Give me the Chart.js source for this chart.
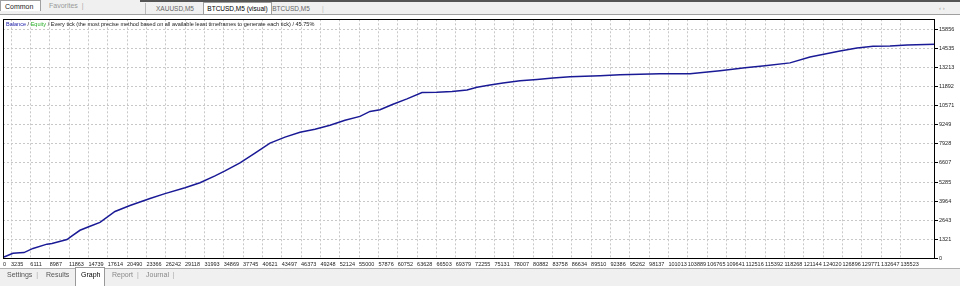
<!DOCTYPE html>
<html>
<head>
<meta charset="utf-8">
<script src="https://cdn.jsdelivr.net/npm/chart.js@4/dist/chart.umd.min.js"></script>
<style>
  html, body { margin: 0; padding: 0; }
  body { width: 960px; height: 286px; background: #f0f0f0; position: relative; overflow: hidden;
         font-family: "Liberation Sans", Arial, sans-serif; color: #222; }
  .abs { position: absolute; white-space: nowrap; }
  .topbar { left: 140px; top: 0; width: 820px; height: 2px; background: #555; }
  .tab { font-size: 6.5px; line-height: 11px; height: 11px; }
  .tab.sel { background: #fff; border: 1px solid #a0a0a0; border-bottom: none; }
  .tabline { left: 0; top: 14px; width: 960px; height: 1px; background: #a0a0a0; }
  .panel { left: 0; top: 15px; width: 960px; height: 253px; background: #fff; }
  .legend { left: 6px; top: 21px; font-size: 5.55px; color: #222; }
  .bottom { left: 0; top: 268px; width: 960px; height: 18px; background: #f0f0f0; border-top: 1px solid #b0b0b0; }
  .btab { font-size: 7px; top: 271px; color: #555; }
  .sep { color: #aaa; }
</style>
</head>
<body>
<div class="abs topbar"></div>
<div class="abs tab sel" style="left:0;top:0;width:41px;font-size:7px;padding-left:4px;box-sizing:border-box;">Common</div>
<div class="abs tab" style="left:49px;top:0;font-size:7px;color:#999;">Favorites <span class="sep">&nbsp;|</span></div>
<div class="abs tab" style="left:145px;top:3px;width:58px;text-align:center;color:#666;border-left:1px solid #bbb;">XAUUSD,M5</div>
<div class="abs tab sel" style="left:203px;top:2px;width:67px;text-align:center;color:#000;">BTCUSD,M5 (visual)</div>
<div class="abs tab" style="left:271px;top:3px;width:40px;text-align:center;color:#666;">BTCUSD,M5</div>
<div class="abs tab" style="left:322px;top:3px;color:#bbb;">|</div>
<div class="abs tab" style="left:939px;top:3px;color:#999;font-size:6px;">&#8249; &#8250;</div>
<div class="abs tabline"></div>
<div class="abs panel">
  <div style="position:relative;width:960px;height:253px;">
    <canvas id="graph"></canvas>
  </div>
</div>
<div class="abs legend"><span style="color:#1a1aa8">Balance</span> / <span style="color:#2ab02a">Equity</span> / Every tick (the most precise method based on all available least timeframes to generate each tick) / 45.75%</div>
<div class="abs bottom"></div>
<div class="abs btab" style="left:7px;">Settings <span class="sep">&nbsp;|</span></div>
<div class="abs btab" style="left:46px;">Results</div>
<div class="abs" style="left:75px;top:267px;width:30px;height:19px;background:#fff;border:1px solid #999;border-bottom:none;box-sizing:border-box;"></div>
<div class="abs btab" style="left:81px;color:#000;">Graph</div>
<div class="abs btab" style="left:112px;color:#888;">Report <span class="sep">&nbsp;|</span></div>
<div class="abs btab" style="left:146px;color:#888;">Journal <span class="sep">&nbsp;|</span></div>

<script>
// trade index / balance
const tradeIdx = [
  2186, 3525, 4566, 5161, 6500, 8582, 9326, 11557, 12301, 13491,
  14978, 16466, 18697, 20928, 23903, 26134, 29109, 31340, 33571, 35059,
  37290, 39521, 41752, 43983, 46214, 48445, 50677, 52908, 55139, 56626,
  58114, 60047, 62130, 64361, 66592, 68823, 71054, 72542, 74475, 76409,
  78938, 81466, 83846, 86375, 90837, 93812, 99761, 104224, 108686, 112404,
  115379, 119098, 122072, 125047, 126535, 129063, 131443, 133972, 136501, 140665
];
const balance = [
  103, 356, 397, 411, 698, 993, 1041, 1314, 1561, 1951,
  2225, 2499, 3252, 3663, 4142, 4484, 4895, 5237, 5716, 6059,
  6606, 7291, 7976, 8387, 8729, 8934, 9208, 9550, 9824, 10167,
  10283, 10666, 11036, 11467, 11488, 11535, 11652, 11830, 11994, 12131,
  12288, 12378, 12473, 12562, 12631, 12699, 12768, 12768, 12973, 13179,
  13316, 13521, 13932, 14206, 14342, 14548, 14664, 14685, 14753, 14801
];

const xTickLabels = ["0", "3235", "6111", "8987", "11863", "14739", "17614", "20490", "23366", "26242",
  "29118", "31993", "34869", "37745", "40621", "43497", "46373", "49248", "52124", "55000",
  "57876", "60752", "63628", "66503", "69379", "72255", "75131", "78007", "80882", "83758",
  "86634", "89510", "92386", "95262", "98137", "101013", "103889", "106765", "109641", "112516",
  "115392", "118268", "121144", "124020", "126896", "129771", "132647", "135523"];
const yTickValues = [0, 1321, 2643, 3964, 5285, 6607, 7928, 9249, 10571, 11892, 13213, 14535, 15856];

const xMin = 2040, xMax = 140665;
const yMin = -34, yMax = 16533;

const framePlugin = {
  id: "frame",
  afterDraw(chart) {
    const a = chart.chartArea, ctx = chart.ctx;
    ctx.save();
    ctx.strokeStyle = "#000";
    ctx.lineWidth = 1;
    ctx.strokeRect(Math.round(a.left) + 0.5, Math.round(a.top) + 0.5,
      Math.round(a.right - a.left) - 1, Math.round(a.bottom - a.top) - 1);
    ctx.restore();
  }
};

const tickFont = { family: "Liberation Sans", size: 5.5 };

new Chart(document.getElementById("graph"), {
  type: "line",
  data: {
    datasets: [{
      label: "Balance",
      data: tradeIdx.map((x, i) => ({ x, y: balance[i] })),
      borderColor: "#1a1a96",
      borderWidth: 1.5,
      pointRadius: 0,
      tension: 0,
      fill: false
    }]
  },
  options: {
    responsive: true,
    maintainAspectRatio: false,
    animation: false,
    layout: { padding: { left: 3, top: 2, right: 0, bottom: 0 } },
    plugins: { legend: { display: false }, tooltip: { enabled: false } },
    scales: {
      x: {
        type: "linear",
        min: xMin,
        max: xMax,
        afterBuildTicks(scale) {
          // first label sits at the left edge, the rest at their trade numbers
          scale.ticks = xTickLabels.map((t, i) => ({ value: i === 0 ? xMin : Number(t) }));
        },
        afterFit(scale) { scale.height = 9; },
        grid: { color: "#c8c8c8", lineWidth: 1, drawTicks: false },
        border: { display: false, dash: [2, 2] },
        ticks: {
          autoSkip: false,
          maxRotation: 0,
          align: "start",
          padding: 2,
          color: "#222",
          font: tickFont,
          callback: (v, i) => xTickLabels[i]
        }
      },
      y: {
        position: "right",
        min: yMin,
        max: yMax,
        afterBuildTicks(scale) {
          scale.ticks = yTickValues.map(v => ({ value: v }));
        },
        afterFit(scale) { scale.width = 25; },
        grid: { color: "#c8c8c8", lineWidth: 1, tickLength: 3, tickColor: "#000" },
        border: { display: false, dash: [2, 2] },
        ticks: {
          padding: 1,
          color: "#222",
          font: tickFont,
          callback: v => String(v)
        }
      }
    }
  },
  plugins: [framePlugin]
});
</script>
</body>
</html>
